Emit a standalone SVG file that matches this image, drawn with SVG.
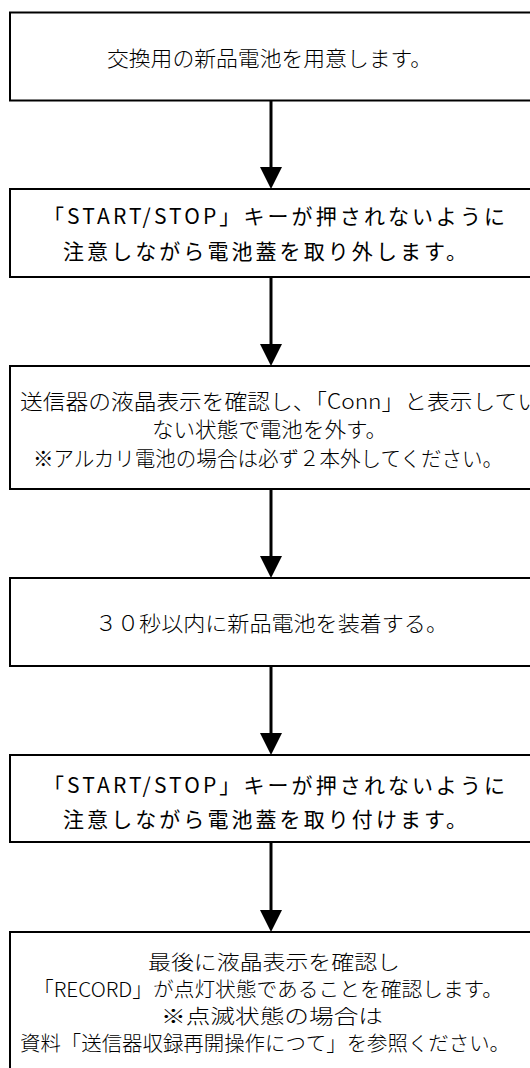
<svg xmlns="http://www.w3.org/2000/svg" width="530" height="1068" viewBox="0 0 530 1068">
<defs>
<style>
.box{fill:#fff;stroke:#000;stroke-width:2}
.t{font-family:"Noto Sans CJK JP","Noto Sans",sans-serif;font-size:21px;fill:#000;dominant-baseline:central}
.m{font-weight:300}
.s{font-size:20px}
.c{stroke:#000;stroke-width:3;fill:none}
.h{fill:#000}
</style>
</defs>
<rect width="530" height="1068" fill="#fff"/>
<g id="connectors">
<line class="c" x1="271" y1="101" x2="271" y2="170"/><polygon class="h" points="260,167 282,167 271,189"/>
<line class="c" x1="271" y1="277" x2="271" y2="346"/><polygon class="h" points="260,344 282,344 271,366"/>
<line class="c" x1="271" y1="489" x2="271" y2="558"/><polygon class="h" points="260,556 282,556 271,578"/>
<line class="c" x1="271" y1="666" x2="271" y2="735"/><polygon class="h" points="260,733 282,733 271,755"/>
<line class="c" x1="271" y1="842" x2="271" y2="912"/><polygon class="h" points="260,910 282,910 271,932"/>
</g>
<g id="n1">
<rect class="box" x="10" y="12.5" width="530" height="88"/>
<text class="t m" x="107" y="57" textLength="325" lengthAdjust="spacingAndGlyphs">交換用の新品電池を用意します。</text>
</g>
<g id="n2">
<rect class="box" x="10" y="189" width="530" height="88"/>
<text class="t" x="43" y="215" textLength="462" lengthAdjust="spacing">「START/STOP」キーが押されないように</text>
<text class="t" x="63" y="250" textLength="404" lengthAdjust="spacing">注意しながら電池蓋を取り外します。</text>
</g>
<g id="n3">
<rect class="box" x="10" y="366" width="530" height="123"/>
<text class="t m" x="20" y="400" textLength="520" lengthAdjust="spacingAndGlyphs">送信器の液晶表示を確認し、「Conn」と表示してい</text>
<text class="t m" x="152" y="428" textLength="235" lengthAdjust="spacingAndGlyphs">ない状態で電池を外す。</text>
<text class="t m" x="33" y="457" textLength="470" lengthAdjust="spacingAndGlyphs">※アルカリ電池の場合は必ず２本外してください。</text>
</g>
<g id="n4">
<rect class="box" x="10" y="578" width="530" height="88"/>
<text class="t m" x="95" y="622" textLength="353" lengthAdjust="spacingAndGlyphs">３０秒以内に新品電池を装着する。</text>
</g>
<g id="n5">
<rect class="box" x="10" y="755" width="530" height="87"/>
<text class="t" x="43" y="784" textLength="462" lengthAdjust="spacing">「START/STOP」キーが押されないように</text>
<text class="t" x="63" y="818" textLength="404" lengthAdjust="spacing">注意しながら電池蓋を取り付けます。</text>
</g>
<g id="n6">
<rect class="box" x="10" y="932" width="530" height="150"/>
<text class="t m s" x="148" y="961" textLength="252" lengthAdjust="spacingAndGlyphs">最後に液晶表示を確認し</text>
<text class="t m s" x="33" y="988.5" textLength="470" lengthAdjust="spacingAndGlyphs">「RECORD」が点灯状態であることを確認します。</text>
<text class="t m s" x="161" y="1015" textLength="222" lengthAdjust="spacingAndGlyphs">※点滅状態の場合は</text>
<text class="t m s" x="20" y="1042.5" textLength="490" lengthAdjust="spacingAndGlyphs">資料「送信器収録再開操作につて」を参照ください。</text>
</g>
</svg>
